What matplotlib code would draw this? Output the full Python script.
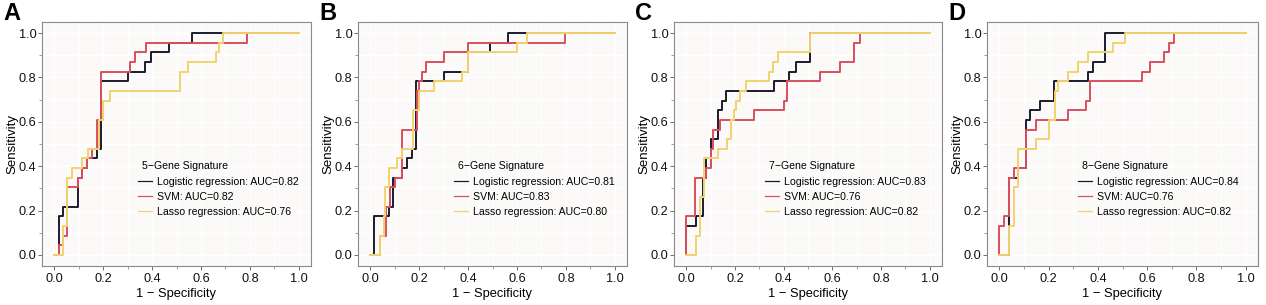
import matplotlib
matplotlib.use("Agg")
import matplotlib.pyplot as plt
from matplotlib.ticker import MultipleLocator, FormatStrFormatter

plt.rcParams['font.family'] = ['Liberation Sans', 'DejaVu Sans']

panel_letters = ["A", "B", "C", "D"]
signature_titles = ["5\u2212Gene Signature", "6\u2212Gene Signature",
                    "7\u2212Gene Signature", "8\u2212Gene Signature"]
model_names = ["Logistic regression", "SVM", "Lasso regression"]
model_colors = ["#1c1b2e", "#d94f5c", "#f2d26e"]

auc_A = [0.82, 0.82, 0.76]
auc_B = [0.81, 0.83, 0.80]
auc_C = [0.83, 0.76, 0.82]
auc_D = [0.84, 0.76, 0.82]

# Panel A
A_log_fpr = [0, 0.018, 0.035, 0.097, 0.115, 0.133, 0.174, 0.19, 0.30, 0.37, 0.395, 0.47, 0.565, 1.0]
A_log_tpr = [0, 0.174, 0.217, 0.348, 0.391, 0.435, 0.478, 0.783, 0.826, 0.870, 0.913, 0.957, 1.0, 1.0]
A_svm_fpr = [0, 0.018, 0.036, 0.054, 0.097, 0.115, 0.133, 0.155, 0.175, 0.19, 0.31, 0.33, 0.375, 0.79, 1.0]
A_svm_tpr = [0, 0.043, 0.087, 0.304, 0.348, 0.391, 0.435, 0.478, 0.609, 0.826, 0.870, 0.913, 0.957, 1.0, 1.0]
A_las_fpr = [0, 0.036, 0.054, 0.074, 0.115, 0.14, 0.185, 0.20, 0.23, 0.513, 0.548, 0.66, 0.675, 0.69, 1.0]
A_las_tpr = [0, 0.13, 0.348, 0.391, 0.435, 0.478, 0.609, 0.696, 0.739, 0.826, 0.870, 0.913, 0.957, 1.0, 1.0]

# Panel B
B_log_fpr = [0, 0.015, 0.075, 0.095, 0.13, 0.15, 0.17, 0.187, 0.30, 0.40, 0.49, 0.565, 1.0]
B_log_tpr = [0, 0.174, 0.217, 0.348, 0.391, 0.435, 0.478, 0.783, 0.826, 0.913, 0.957, 1.0, 1.0]
B_svm_fpr = [0, 0.04, 0.065, 0.08, 0.10, 0.13, 0.19, 0.20, 0.21, 0.23, 0.30, 0.40, 0.795, 1.0]
B_svm_tpr = [0, 0.087, 0.217, 0.304, 0.348, 0.565, 0.739, 0.783, 0.826, 0.870, 0.913, 0.957, 1.0, 1.0]
B_las_fpr = [0, 0.04, 0.055, 0.06, 0.075, 0.11, 0.13, 0.175, 0.20, 0.26, 0.375, 0.40, 0.60, 0.64, 1.0]
B_las_tpr = [0, 0.087, 0.174, 0.304, 0.391, 0.435, 0.478, 0.652, 0.739, 0.783, 0.826, 0.913, 0.957, 1.0, 1.0]

# Panel C
C_log_fpr = [0, 0, 0.04, 0.07, 0.08, 0.10, 0.13, 0.145, 0.165, 0.36, 0.42, 0.45, 0.51, 0.51, 1.0]
C_log_tpr = [0, 0.13, 0.174, 0.348, 0.435, 0.522, 0.652, 0.696, 0.739, 0.783, 0.826, 0.870, 0.913, 1.0, 1.0]
C_svm_fpr = [0, 0, 0.035, 0.08, 0.10, 0.11, 0.14, 0.28, 0.40, 0.415, 0.55, 0.63, 0.69, 0.715, 1.0]
C_svm_tpr = [0, 0.174, 0.348, 0.391, 0.478, 0.565, 0.609, 0.652, 0.696, 0.783, 0.826, 0.870, 0.957, 1.0, 1.0]
C_las_fpr = [0, 0.04, 0.058, 0.075, 0.13, 0.167, 0.186, 0.195, 0.205, 0.22, 0.245, 0.34, 0.355, 0.377, 0.51, 1.0]
C_las_tpr = [0, 0.087, 0.261, 0.435, 0.478, 0.522, 0.609, 0.652, 0.696, 0.739, 0.783, 0.826, 0.870, 0.913, 1.0, 1.0]

# Panel D
D_log_fpr = [0, 0.038, 0.04, 0.075, 0.11, 0.125, 0.165, 0.22, 0.36, 0.38, 0.43, 1.0]
D_log_tpr = [0, 0.174, 0.348, 0.391, 0.609, 0.652, 0.696, 0.783, 0.826, 0.870, 1.0, 1.0]
D_svm_fpr = [0, 0, 0.02, 0.04, 0.06, 0.11, 0.15, 0.28, 0.35, 0.37, 0.58, 0.61, 0.67, 0.69, 0.71, 1.0]
D_svm_tpr = [0, 0.13, 0.174, 0.348, 0.391, 0.565, 0.609, 0.652, 0.696, 0.783, 0.826, 0.870, 0.913, 0.957, 1.0, 1.0]
D_las_fpr = [0, 0.04, 0.06, 0.075, 0.15, 0.20, 0.225, 0.24, 0.28, 0.32, 0.36, 0.46, 0.51, 1.0]
D_las_tpr = [0, 0.13, 0.304, 0.478, 0.522, 0.609, 0.739, 0.783, 0.826, 0.870, 0.913, 0.957, 1.0, 1.0]

panels = [
    ([(A_log_fpr, A_log_tpr), (A_svm_fpr, A_svm_tpr), (A_las_fpr, A_las_tpr)], auc_A),
    ([(B_log_fpr, B_log_tpr), (B_svm_fpr, B_svm_tpr), (B_las_fpr, B_las_tpr)], auc_B),
    ([(C_log_fpr, C_log_tpr), (C_svm_fpr, C_svm_tpr), (C_las_fpr, C_las_tpr)], auc_C),
    ([(D_log_fpr, D_log_tpr), (D_svm_fpr, D_svm_tpr), (D_las_fpr, D_las_tpr)], auc_D),
]

fig = plt.figure(figsize=(12.66, 3.05), dpi=100)
lefts_px = [42, 358, 674, 987]
widths_px = [269, 269, 268, 271]
legend_x = [0.357, 0.357, 0.340, 0.336]
W, H = 1266, 305
ax_bottom = 1 - 266 / H
ax_height = (266 - 22) / H

for i, ((curves, aucs), lp, wp) in enumerate(zip(panels, lefts_px, widths_px)):
    ax = fig.add_axes([lp / W, ax_bottom, wp / W, ax_height])
    ax.set_facecolor("#fbfaf9")
    for (fpr, tpr), name, col, auc in zip(curves, model_names, model_colors, aucs):
        ax.plot(fpr, tpr, drawstyle="steps-post", color=col, lw=1.4,
                label=f"{name}: AUC={auc:.2f}")
    ax.set_xlim(-0.05, 1.05)
    ax.set_ylim(-0.05, 1.05)
    ax.xaxis.set_major_locator(MultipleLocator(0.2))
    ax.yaxis.set_major_locator(MultipleLocator(0.2))
    ax.xaxis.set_minor_locator(MultipleLocator(0.1))
    ax.yaxis.set_minor_locator(MultipleLocator(0.1))
    ax.xaxis.set_major_formatter(FormatStrFormatter("%.1f"))
    ax.yaxis.set_major_formatter(FormatStrFormatter("%.1f"))
    ax.grid(True, which="both", color="white", lw=0.8)
    ax.set_axisbelow(True)
    for s in ax.spines.values():
        s.set_color("#8a8a8a")
        s.set_linewidth(0.8)
    ax.tick_params(which="major", length=3, width=0.6, color="#555555",
                   labelsize=9.2, pad=2, labelcolor="#111111")
    ax.tick_params(axis="y", which="major", pad=1)
    ax.tick_params(which="minor", length=2, width=0.5, color="#777777")
    ax.set_xlabel("1 \u2212 Specificity", fontsize=9.3, labelpad=2)
    ax.set_ylabel("Sensitivity", fontsize=9.5, labelpad=0)
    leg = ax.legend(loc="upper left",
                    bbox_to_anchor=(legend_x[i], 0.365), frameon=False, fontsize=7.6,
                    handlelength=1.3, handletextpad=0.5,
                    labelspacing=0.47, borderaxespad=0, borderpad=0)
    for lh in leg.get_lines():
        lh.set_linewidth(0.9)
    ax.text(legend_x[i] + 0.015, 0.411, signature_titles[i], transform=ax.transAxes,
            fontsize=7.6, ha="left", va="center")
    fig.text((lp - 39) / W, 0.995, panel_letters[i], fontsize=17,
             fontweight="bold", ha="left", va="top")

fig.savefig("out.png", dpi=100)
